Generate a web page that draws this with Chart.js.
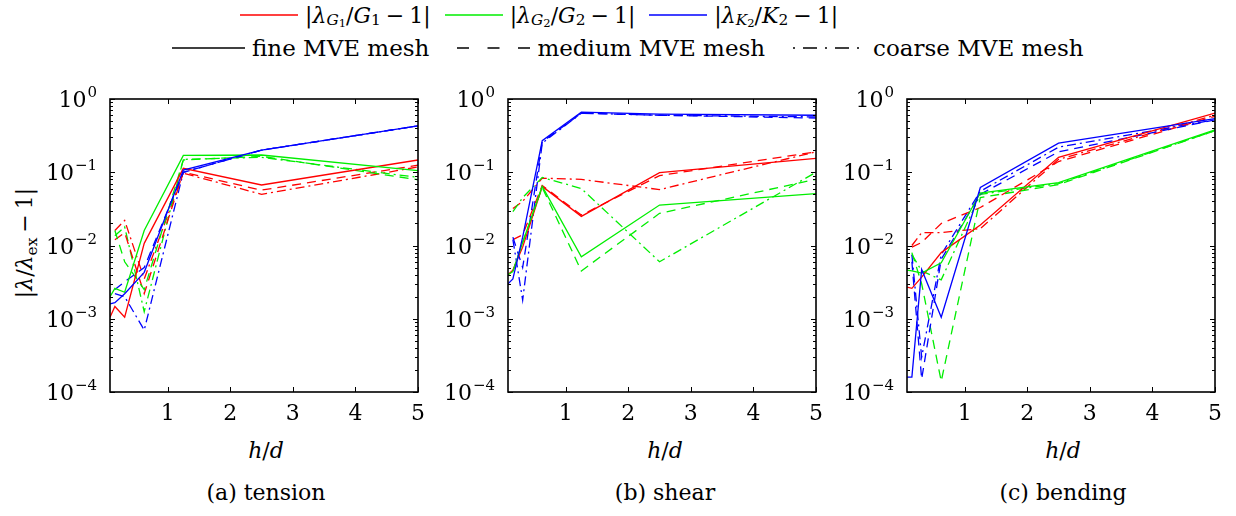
<!DOCTYPE html>
<html>
<head>
<meta charset="utf-8">
<script src="https://cdn.jsdelivr.net/npm/chart.js@4.4.1/dist/chart.umd.min.js"></script>
<style>
  body { margin: 0; background: #fff; width: 1236px; height: 516px; overflow: hidden; position: relative;
         font-family: "DejaVu Serif", serif; color: #000; }
  .panel { position: absolute; top: 84px; width: 434px; height: 338px; }
  .row { position: absolute; display: flex; align-items: center; font-size: 22px; white-space: nowrap; }
  .row svg { display: block; margin: 0 7px 0 0; }
  .row .item { display: flex; align-items: center; }
  .sb { font-size: 70%; position: relative; top: 0.3em; }
  .sb .sb { font-size: 75%; top: 0.25em; }
  .mi { margin: 0 5px; }
  .label { position: absolute; font-size: 22px; white-space: nowrap; transform: translateX(-50%); }
  .ytitle { position: absolute; left: 24px; top: 243px; font-size: 22px; white-space: nowrap;
            transform: translate(-50%, -50%) rotate(-90deg); }
</style>
</head>
<body>
<div class="row" style="left:240px;top:1px;height:28px;" id="legend1"></div>
<div class="row" style="left:172px;top:34px;height:28px;font-size:23px;" id="legend2"></div>
<div class="ytitle">|<i>λ</i>/<i>λ</i><span class="sb">ex</span><span class="mi">−</span>1|</div>

<div class="panel" style="left:0px"><canvas id="tension"></canvas></div>
<div class="panel" style="left:398px"><canvas id="shear"></canvas></div>
<div class="panel" style="left:797px"><canvas id="bending"></canvas></div>

<div class="label" style="left:266px;top:438px"><i>h</i>/<i>d</i></div>
<div class="label" style="left:665px;top:438px"><i>h</i>/<i>d</i></div>
<div class="label" style="left:1063px;top:438px"><i>h</i>/<i>d</i></div>
<div class="label" style="left:266px;top:480px">(a) tension</div>
<div class="label" style="left:665px;top:480px">(b) shear</div>
<div class="label" style="left:1063px;top:480px">(c) bending</div>

<script>
// h/d values (MVE size ratio)
const hd = [0.078125, 0.15625, 0.3125, 0.625, 1.25, 2.5, 5];
const xTicks = [1, 2, 3, 4, 5];
const yDecades = [-4, -3, -2, -1, 0];

// (a) tension
const tensionG1Fine   = [1.05e-3, 1.47e-3, 1.05e-3, 0.0107, 0.113, 0.067, 0.147];
const tensionG1Medium = [null, 0.012, 0.015, 2.2e-3, 0.1, 0.057, 0.125];
const tensionG1Coarse = [null, 0.016, 0.022, 3.5e-3, 0.097, 0.05, 0.118];
const tensionG2Fine   = [2.0e-3, 2.6e-3, 2.3e-3, 0.016, 0.17, 0.172, 0.105];
const tensionG2Medium = [null, 0.016, 0.006, 2.5e-3, 0.147, 0.165, 0.079];
const tensionG2Coarse = [null, 0.0136, 0.018, 1.25e-3, 0.15, 0.16, 0.085];
const tensionK2Fine   = [1.6e-3, 1.66e-3, 2.2e-3, 4.3e-3, 0.107, 0.2, 0.43];
const tensionK2Medium = [null, 2.5e-3, 3.2e-3, 5e-3, 0.1, 0.2, 0.43];
const tensionK2Coarse = [null, 2.2e-3, 2.0e-3, 7e-4, 0.1, 0.2, 0.43];

// (b) shear
const shearG1Fine   = [4.0e-3, 4.6e-3, 9.5e-3, 0.064, 0.025, 0.099, 0.155];
const shearG1Medium = [null, 0.012, 0.014, 0.066, 0.026, 0.09, 0.19];
const shearG1Coarse = [null, 0.032, 0.04, 0.083, 0.08, 0.058, 0.19];
const shearG2Fine   = [4.0e-3, 4.4e-3, 0.011, 0.064, 7.0e-3, 0.0357, 0.051];
const shearG2Medium = [null, 4.5e-3, 0.011, 0.062, 4.5e-3, 0.0275, 0.08];
const shearG2Coarse = [null, 0.029, 0.045, 0.085, 0.06, 6e-3, 0.1];
const shearK2Fine   = [3.0e-3, 3.5e-3, 0.013, 0.27, 0.66, 0.62, 0.6];
const shearK2Medium = [null, 0.013, 5e-3, 0.26, 0.64, 0.6, 0.55];
const shearK2Coarse = [null, 0.012, 1.8e-3, 0.25, 0.64, 0.6, 0.57];

// (c) bending
const bendingG1Fine   = [2.7e-3, 2.6e-3, 3.7e-3, 8e-3, 0.019, 0.16, 0.64];
const bendingG1Medium = [null, 9.5e-3, 0.011, 0.02, 0.033, 0.14, 0.58];
const bendingG1Coarse = [null, 0.01, 0.015, 0.015, 0.017, 0.15, 0.6];
const bendingG2Fine   = [4.6e-3, 4.5e-3, 4.2e-3, 5.8e-3, 0.052, 0.072, 0.38];
const bendingG2Medium = [null, 8e-3, 3e-3, 1.4e-4, 0.045, 0.068, 0.37];
const bendingG2Coarse = [null, 7.5e-3, 4.5e-3, 3.4e-3, 0.05, 0.07, 0.37];
const bendingK2Fine   = [1.6e-4, 1.6e-4, 4.7e-3, 1.05e-3, 0.062, 0.25, 0.54];
const bendingK2Medium = [null, 6e-3, 1.5e-4, 6.5e-3, 0.05, 0.19, 0.52];
const bendingK2Coarse = [null, 7.5e-3, 3e-4, 7.5e-3, 0.055, 0.22, 0.52];

const RED = '#ff0000', GREEN = '#00ee00', BLUE = '#0000ff';
const DASHED = [9, 6];
const DASHDOT = [9, 4, 2, 4];
const FONT = '"DejaVu Serif", serif';

// legend
function lineSvg(color, dash, w) {
    return `<svg width="${w}" height="10"><line x1="0" y1="5" x2="${w}" y2="5" stroke="${color}" stroke-width="1.3"` +
        (dash.length ? ` stroke-dasharray="${dash.join(' ')}"` : '') + '/></svg>';
}
function ratio(sym, idx) {
    return `|<i>λ</i><span class="sb"><i>${sym}</i><span class="sb">${idx}</span></span>/<i>${sym}</i>` +
        `<span class="sb">${idx}</span><span class="mi">−</span>1|`;
}
document.getElementById('legend1').innerHTML =
    `<span class="item">${lineSvg(RED, [], 58)}${ratio('G', 1)}</span>` +
    `<span class="item" style="margin-left:14px">${lineSvg(GREEN, [], 58)}${ratio('G', 2)}</span>` +
    `<span class="item" style="margin-left:14px">${lineSvg(BLUE, [], 58)}${ratio('K', 2)}</span>`;
document.getElementById('legend2').innerHTML =
    `<span class="item">${lineSvg('#000', [], 73)}fine MVE mesh</span>` +
    `<span class="item" style="margin-left:28px">${lineSvg('#000', [12, 18.5], 73)}medium MVE mesh</span>` +
    `<span class="item" style="margin-left:28px">${lineSvg('#000', [2, 8, 14, 8], 73)}coarse MVE mesh</span>`;

// box, inward ticks and y labels with superscript exponents
const framePlugin = {
    id: 'frame',
    afterDraw(chart) {
        const { ctx, chartArea: a, scales } = chart;
        ctx.save();
        ctx.strokeStyle = '#000';
        ctx.lineWidth = 1;
        ctx.beginPath();
        scales.x.ticks.forEach(t => {
            const px = Math.round(scales.x.getPixelForValue(t.value)) + 0.5;
            ctx.moveTo(px, a.bottom); ctx.lineTo(px, a.bottom - 5);
            ctx.moveTo(px, a.top); ctx.lineTo(px, a.top + 5);
        });
        scales.y.ticks.forEach(t => {
            const py = Math.round(scales.y.getPixelForValue(t.value)) + 0.5;
            const major = Math.abs(Math.log10(t.value) - Math.round(Math.log10(t.value))) < 1e-9;
            const len = major ? 5 : 3;
            ctx.moveTo(a.left, py); ctx.lineTo(a.left + len, py);
            ctx.moveTo(a.right, py); ctx.lineTo(a.right - len, py);
        });
        ctx.stroke();
        ctx.lineWidth = 1.6;
        ctx.strokeRect(a.left, a.top, a.right - a.left, a.bottom - a.top);

        ctx.fillStyle = '#000';
        yDecades.forEach(e => {
            const py = scales.y.getPixelForValue(Math.pow(10, e));
            const exp = e === 0 ? '0' : '\u2212' + (-e);
            ctx.font = '15px ' + FONT;
            const ew = ctx.measureText(exp).width;
            const right = a.left - 13;
            ctx.textAlign = 'left';
            ctx.textBaseline = 'alphabetic';
            ctx.fillText(exp, right - ew, py - 2);
            ctx.font = '22px ' + FONT;
            ctx.textAlign = 'right';
            ctx.fillText('10', right - ew - 1, py + 8);
        });
        ctx.restore();
    }
};

function makeChart(id, g1, g2, k2) {
    const groups = [
        { dash: DASHDOT, sets: [g1[2], g2[2], k2[2]] },
        { dash: DASHED, sets: [g1[1], g2[1], k2[1]] },
        { dash: [], sets: [g1[0], g2[0], k2[0]] }
    ];
    const colors = [RED, GREEN, BLUE];
    const datasets = [];
    // dataset 0 is drawn last, so put the fine blue line first
    groups.slice().reverse().forEach(g => {
        [2, 1, 0].forEach(c => {
            datasets.push({
                data: hd.map((x, i) => ({ x: x, y: g.sets[c][i] })),
                borderColor: colors[c],
                borderWidth: 1.3,
                borderDash: g.dash,
                pointRadius: 0,
                tension: 0,
                fill: false
            });
        });
    });

    return new Chart(document.getElementById(id), {
        type: 'line',
        data: { datasets },
        options: {
            responsive: true,
            maintainAspectRatio: false,
            animation: false,
            events: [],
            layout: { padding: { top: 15, right: 12, left: 0, bottom: 0 } },
            plugins: { legend: { display: false }, tooltip: { enabled: false } },
            scales: {
                x: {
                    type: 'linear',
                    min: hd[0],
                    max: 5,
                    grid: { display: false, drawTicks: false },
                    border: { display: false },
                    afterBuildTicks: s => { s.ticks = xTicks.map(v => ({ value: v })); },
                    afterFit: s => { s.height = 30; },
                    ticks: { color: '#000', padding: 9, font: { family: FONT, size: 22 }, autoSkip: false }
                },
                y: {
                    type: 'logarithmic',
                    min: 1e-4,
                    max: 1,
                    grid: { display: false, drawTicks: false },
                    border: { display: false },
                    afterBuildTicks: s => {
                        const t = [];
                        for (let e = -4; e < 0; e++) {
                            for (let m = 1; m < 10; m++) t.push({ value: m * Math.pow(10, e) });
                        }
                        t.push({ value: 1 });
                        s.ticks = t;
                    },
                    afterFit: s => { s.width = 110; },
                    ticks: { display: false }
                }
            }
        },
        plugins: [framePlugin]
    });
}

makeChart('tension',
    [tensionG1Fine, tensionG1Medium, tensionG1Coarse],
    [tensionG2Fine, tensionG2Medium, tensionG2Coarse],
    [tensionK2Fine, tensionK2Medium, tensionK2Coarse]);
makeChart('shear',
    [shearG1Fine, shearG1Medium, shearG1Coarse],
    [shearG2Fine, shearG2Medium, shearG2Coarse],
    [shearK2Fine, shearK2Medium, shearK2Coarse]);
makeChart('bending',
    [bendingG1Fine, bendingG1Medium, bendingG1Coarse],
    [bendingG2Fine, bendingG2Medium, bendingG2Coarse],
    [bendingK2Fine, bendingK2Medium, bendingK2Coarse]);
</script>
</body>
</html>
